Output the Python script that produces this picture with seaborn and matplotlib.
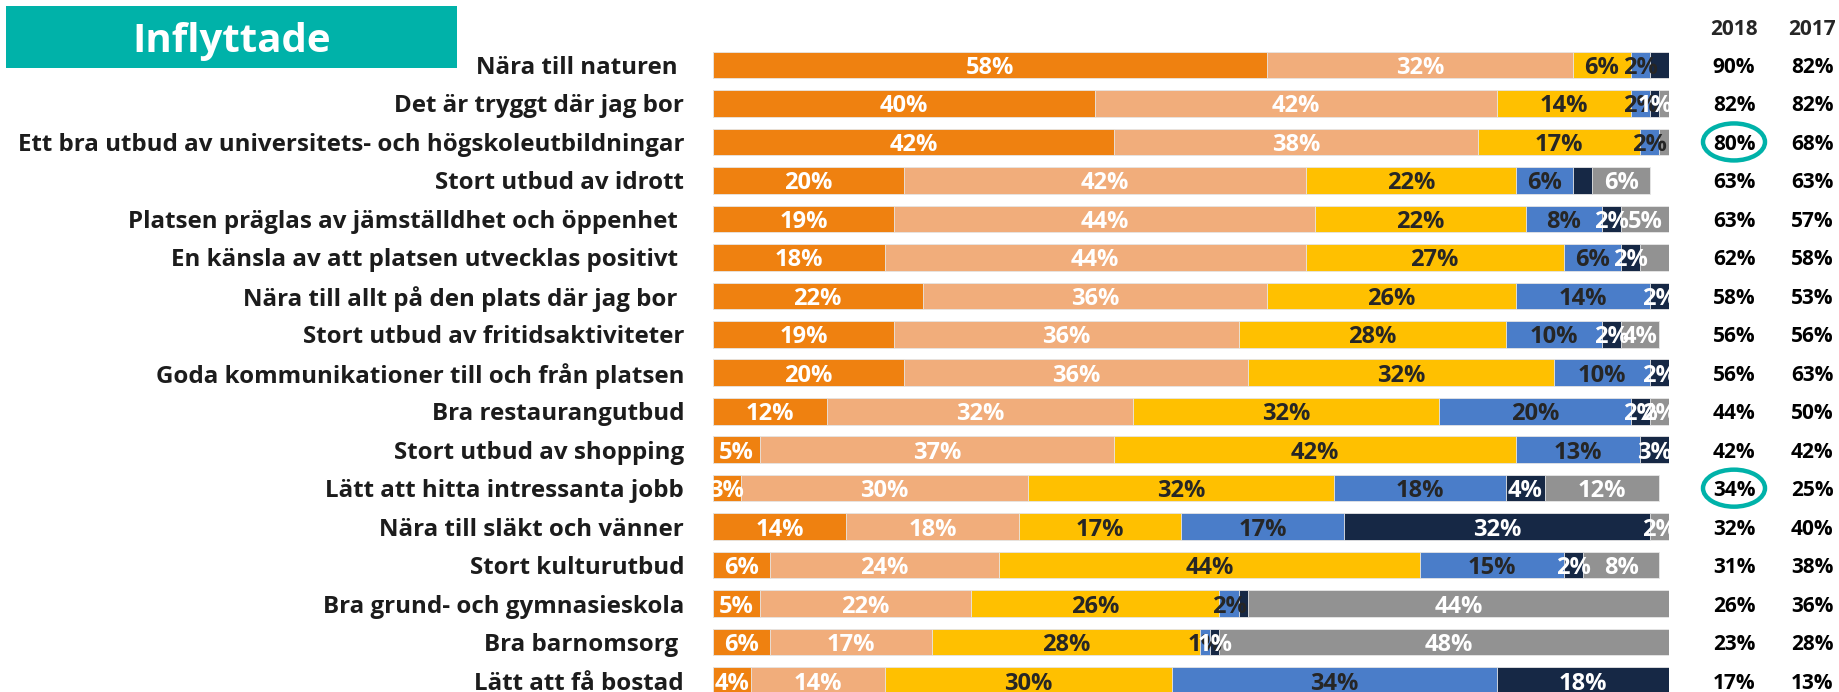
import numpy as np
import pandas as pd
import matplotlib
matplotlib.use("Agg")
import matplotlib.pyplot as plt
import seaborn as sns
from matplotlib.patches import Ellipse, Rectangle
from matplotlib import transforms

# ---------------- data ----------------
categories = [
    "Nära till naturen ",
    "Det är tryggt där jag bor",
    "Ett bra utbud av universitets- och högskoleutbildningar",
    "Stort utbud av idrott",
    "Platsen präglas av jämställdhet och öppenhet ",
    "En känsla av att platsen utvecklas positivt ",
    "Nära till allt på den plats där jag bor ",
    "Stort utbud av fritidsaktiviteter",
    "Goda kommunikationer till och från platsen",
    "Bra restaurangutbud",
    "Stort utbud av shopping",
    "Lätt att hitta intressanta jobb",
    "Nära till släkt och vänner",
    "Stort kulturutbud",
    "Bra grund- och gymnasieskola",
    "Bra barnomsorg ",
    "Lätt att få bostad",
]

series_1 = [58, 40, 42, 20, 19, 18, 22, 19, 20, 12, 5, 3, 14, 6, 5, 6, 4]
series_2 = [32, 42, 38, 42, 44, 44, 36, 36, 36, 32, 37, 30, 18, 24, 22, 17, 14]
series_3 = [6, 14, 17, 22, 22, 27, 26, 28, 32, 32, 42, 32, 17, 44, 26, 28, 30]
series_4 = [2, 2, 2, 6, 8, 6, 14, 10, 10, 20, 13, 18, 17, 15, 2, 1, 34]
series_5 = [2, 1, 0, 2, 2, 2, 2, 2, 2, 2, 3, 4, 32, 2, 1, 1, 18]
series_6 = [0, 1, 1, 6, 5, 3, 0, 4, 0, 2, 0, 12, 2, 8, 44, 48, 0.3]

share_2018 = [90, 82, 80, 63, 63, 62, 58, 56, 56, 44, 42, 34, 32, 31, 26, 23, 17]
share_2017 = [82, 82, 68, 63, 57, 58, 53, 56, 63, 50, 42, 25, 40, 38, 36, 28, 13]
year_headers = ["2018", "2017"]
highlighted_rows = [2, 11]
hidden_labels = {(0, 4), (1, 5), (2, 5), (3, 4), (5, 5), (14, 4), (16, 5)}
title_text = "Inflyttade"

# ---------------- style ----------------
sns.set_style("white")
plt.rcParams["font.family"] = ["Open Sans", "DejaVu Sans"]

colors = ["#EF8110", "#F1AD7B", "#FFC000", "#4A7DC9", "#162845", "#929292"]
label_colors = ["white", "white", "#262626", "#262626", "white", "white"]
TEAL = "#00B2A9"
FS_CAT = 17.4
FS_BAR = 17
FS_COL = 15

W, H = 1839, 692
fig = plt.figure(figsize=(W / 100, H / 100), dpi=100)

x0_px, x1_px = 712.5, 1669.0
row0_px, row_step = 65.0, 38.47
top_px = row0_px - 0.5 * row_step
ax = fig.add_axes([x0_px / W, 0.0, (x1_px - x0_px) / W, 1 - top_px / H])

all_series = [series_1, series_2, series_3, series_4, series_5, series_6]
cum = np.cumsum(np.array(all_series, dtype=float), axis=0)

# draw cumulative bars from the longest to the shortest (stacked look)
for k in range(len(all_series) - 1, -1, -1):
    d = pd.DataFrame({"category": categories, "value": cum[k]})
    sns.barplot(data=d, x="value", y="category", order=categories, orient="h",
                color=colors[k], saturation=1, width=0.69, ax=ax,
                edgecolor="#e8e8e8", linewidth=0.6)

# segment labels
for i in range(len(categories)):
    for k in range(len(all_series)):
        v = all_series[k][i]
        if v < 1 or (i, k) in hidden_labels:
            continue
        left = cum[k][i] - v
        ax.text(left + v / 2, i, f"{v:.0f}%", ha="center", va="center_baseline",
                fontsize=FS_BAR, fontweight="bold", color=label_colors[k], clip_on=True)

ax.set_xlim(0, 100)
ax.set_ylim((H - row0_px) / row_step, -0.5)
ax.set_xlabel("")
ax.set_ylabel("")
ax.set_xticks([])
ax.set_yticks(range(len(categories)))
ax.set_yticklabels(categories, fontsize=FS_CAT, fontweight="bold", color="#1c1c1c")
ax.tick_params(axis="y", length=0, pad=20.5)
for s in ax.spines.values():
    s.set_visible(False)
ax.patch.set_alpha(0)

# right-hand columns
blend = transforms.blended_transform_factory(fig.transFigure, ax.transData)
col_x = [1734 / W, 1812 / W]
for cx, hdr, vals in zip(col_x, year_headers, [share_2018, share_2017]):
    ax.text(cx, (27 - row0_px) / row_step, hdr, transform=blend, ha="center",
            va="center_baseline", fontsize=FS_COL, fontweight="bold", color="#262626", clip_on=False)
    for i, v in enumerate(vals):
        ax.text(cx, i, f"{v}%", transform=blend, ha="center", va="center_baseline",
                fontsize=FS_COL, fontweight="bold", color="black", clip_on=False)

for r in highlighted_rows:
    e = Ellipse((col_x[0], r), width=62 / W, height=37 / row_step, transform=blend,
                fill=False, edgecolor=TEAL, linewidth=3.2, clip_on=False)
    ax.add_patch(e)

# title box
fig.patches.append(Rectangle((6 / W, 1 - 68 / H), 451 / W, 62 / H, transform=fig.transFigure,
                             facecolor=TEAL, edgecolor="none"))
fig.text(232 / W, 1 - 37 / H, title_text, ha="center", va="center_baseline",
         fontsize=29, fontweight="bold", color="white")

fig.savefig("out.png", dpi=100)
